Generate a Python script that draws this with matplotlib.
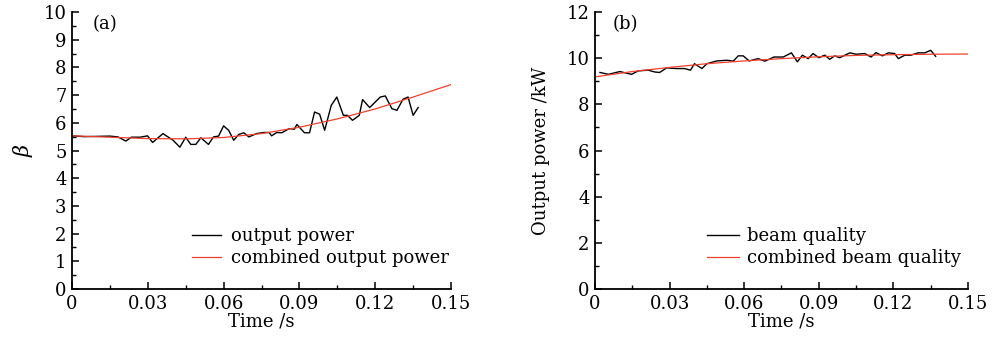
import matplotlib.pyplot as plt
from matplotlib.ticker import MultipleLocator

plt.rcParams['font.family'] = ['DejaVu Serif']
plt.rcParams['mathtext.fontset'] = 'dejavuserif'

# (a) measured beta vs time
t_a = [0, 0.005, 0.010, 0.015, 0.0182, 0.0213, 0.0235, 0.027, 0.0299, 0.0319, 0.036, 0.040,
       0.0427, 0.045, 0.047, 0.049, 0.051, 0.054, 0.056, 0.058, 0.060, 0.062, 0.064, 0.066,
       0.068, 0.070, 0.073, 0.076, 0.078, 0.079, 0.081, 0.083, 0.086, 0.088, 0.089, 0.092,
       0.094, 0.096, 0.098, 0.100, 0.1026, 0.1048, 0.1074, 0.109, 0.111, 0.1137, 0.115,
       0.1178, 0.122, 0.124, 0.1266, 0.1286, 0.131, 0.133, 0.135, 0.137]
beta = [5.53, 5.50, 5.51, 5.52, 5.49, 5.34, 5.48, 5.48, 5.53, 5.29, 5.61, 5.37,
        5.12, 5.48, 5.22, 5.22, 5.46, 5.22, 5.49, 5.52, 5.89, 5.73, 5.37, 5.58,
        5.64, 5.49, 5.61, 5.65, 5.65, 5.53, 5.65, 5.64, 5.79, 5.77, 5.94, 5.64,
        5.64, 6.39, 6.31, 5.73, 6.63, 6.93, 6.27, 6.27, 6.09, 6.27, 6.84,
        6.55, 6.93, 6.97, 6.51, 6.45, 6.85, 6.93, 6.27, 6.55]
t_fit = [0, 0.015, 0.03, 0.045, 0.06, 0.075, 0.09, 0.105, 0.12, 0.135, 0.15]
beta_fit = [5.53, 5.48, 5.43, 5.42, 5.47, 5.61, 5.84, 6.14, 6.50, 6.93, 7.38]

# (b) output power vs time
t_b = [0.002, 0.0054, 0.010, 0.0147, 0.0174, 0.0214, 0.0241, 0.026, 0.0288, 0.0328, 0.036,
       0.0384, 0.040, 0.043, 0.045, 0.049, 0.053, 0.0556, 0.0576, 0.0596, 0.062, 0.0656,
       0.0683, 0.072, 0.0757, 0.079, 0.0814, 0.0834, 0.0857, 0.0877, 0.090, 0.0924, 0.0944,
       0.0964, 0.0984, 0.1025, 0.105, 0.1085, 0.111, 0.113, 0.1156, 0.118, 0.1205, 0.122,
       0.1246, 0.127, 0.130, 0.1326, 0.135, 0.137]
power = [9.38, 9.30, 9.42, 9.30, 9.45, 9.48, 9.40, 9.38, 9.58, 9.55, 9.55,
         9.48, 9.76, 9.55, 9.76, 9.88, 9.91, 9.87, 10.10, 10.10, 9.88, 9.98,
         9.87, 10.05, 10.05, 10.23, 9.84, 10.13, 9.98, 10.20, 10.02, 10.13, 9.95,
         10.10, 10.02, 10.23, 10.17, 10.20, 10.05, 10.24, 10.10, 10.23, 10.20, 9.98,
         10.13, 10.13, 10.23, 10.23, 10.34, 10.08]
power_fit = [9.19, 9.42, 9.60, 9.76, 9.88, 9.98, 10.06, 10.12, 10.15, 10.17, 10.18]

xticks = [0, 0.03, 0.06, 0.09, 0.12, 0.15]
xticklabels = ['0', '0.03', '0.06', '0.09', '0.12', '0.15']

red = '#f0402c'
fs = 13

fig = plt.figure(figsize=(9.93, 3.4), dpi=100)
ax1 = fig.add_axes([0.0725, 0.15, 0.3817, 0.8147])
ax2 = fig.add_axes([0.5992, 0.15, 0.3756, 0.8147])

ax1.plot(t_a, beta, color='black', lw=1.0, label='output power')
ax1.plot(t_fit, beta_fit, color=red, lw=0.9, label='combined output power')
ax1.set_ylim(0, 10)
ax1.set_yticks(range(0, 11))
ax1.yaxis.set_minor_locator(MultipleLocator(0.5))
ax1.set_ylabel(r'$\beta$', fontsize=fs + 2, labelpad=6)
ax1.text(0.055, 0.955, '(a)', transform=ax1.transAxes, fontsize=fs, va='center')
ax1.legend(loc='upper left', bbox_to_anchor=(0.292, 0.255), frameon=False, fontsize=fs,
           borderpad=0, handlelength=1.6, handletextpad=0.55, labelspacing=0.2)

ax2.plot(t_b, power, color='black', lw=1.0, label='beam quality')
ax2.plot(t_fit, power_fit, color=red, lw=0.9, label='combined beam quality')
ax2.set_ylim(0, 12)
ax2.set_yticks(range(0, 13, 2))
ax2.yaxis.set_minor_locator(MultipleLocator(1))
ax2.set_ylabel('Output power /kW', fontsize=fs, labelpad=12)
ax2.text(0.048, 0.955, '(b)', transform=ax2.transAxes, fontsize=fs, va='center')
ax2.legend(loc='upper left', bbox_to_anchor=(0.276, 0.255), frameon=False, fontsize=fs,
           borderpad=0, handlelength=1.8, handletextpad=0.4, labelspacing=0.2)

for ax in (ax1, ax2):
    ax.set_xlim(0, 0.15)
    ax.set_xticks(xticks)
    ax.set_xticklabels(xticklabels)
    ax.xaxis.set_minor_locator(MultipleLocator(0.015))
    ax.set_xlabel('Time /s', fontsize=fs, labelpad=0)
    ax.spines['top'].set_visible(False)
    ax.spines['right'].set_visible(False)
    ax.spines['left'].set_linewidth(1.3)
    ax.spines['bottom'].set_linewidth(1.3)
    ax.tick_params(which='major', direction='in', length=5, width=1.1, labelsize=fs, pad=4)
    ax.tick_params(which='minor', direction='in', length=3, width=1.0)

fig.savefig('out.png', dpi=100)
